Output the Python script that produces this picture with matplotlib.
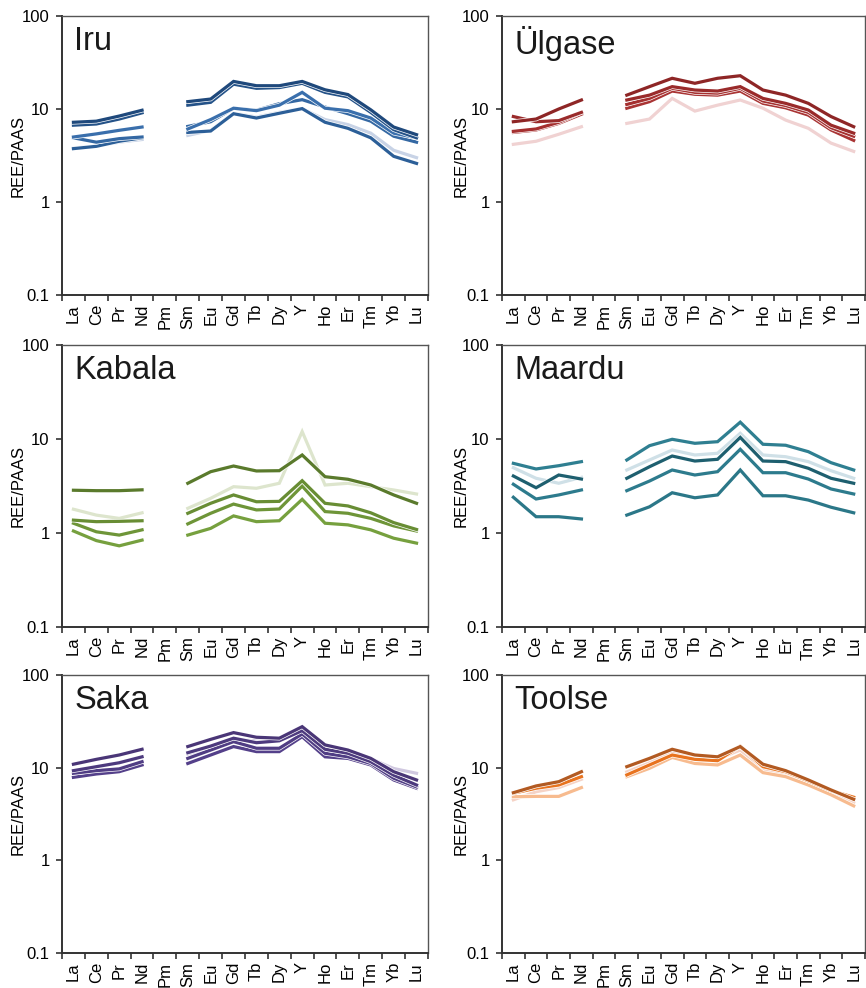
import numpy as np
import matplotlib.pyplot as plt
import matplotlib.patheffects as pe
from matplotlib.ticker import FixedLocator, NullFormatter, NullLocator

plt.rcParams['font.family'] = ['Liberation Sans', 'DejaVu Sans']

nan = np.nan
elements = ["La", "Ce", "Pr", "Nd", "Pm", "Sm", "Eu", "Gd", "Tb", "Dy",
            "Y", "Ho", "Er", "Tm", "Yb", "Lu"]
y_ticks = [0.1, 1, 10, 100]
y_ticklabels = ["0.1", "1", "10", "100"]

# REE/PAAS per sample, Pm left empty (gap in the line); palest sample first
iru = [
    [3.8, 4.0, 4.4, 4.7, nan, 5.2, 5.9, 9.0, 8.2, 9.2, 10.1, 7.7, 6.8, 5.5, 3.6, 3.0],
    [3.75, 3.97, 4.5, 4.9, nan, 5.6, 5.8, 8.9, 8.0, 9.0, 10.1, 7.2, 6.2, 4.9, 3.1, 2.6],
    [4.9, 4.4, 4.8, 5.0, nan, 6.5, 7.3, 10.2, 9.7, 11.4, 12.6, 10.5, 8.9, 7.4, 5.1, 4.4],
    [5.0, 5.4, 5.9, 6.4, nan, 6.1, 7.7, 10.2, 9.6, 11.0, 15.1, 10.2, 9.6, 8.0, 5.5, 4.9],
    [6.7, 6.9, 7.8, 9.1, nan, 11.0, 11.8, 18.5, 16.7, 17.0, 18.9, 15.1, 13.5, 9.2, 6.0, 4.9],
    [7.2, 7.4, 8.4, 9.7, nan, 12.0, 12.8, 19.8, 17.8, 17.8, 19.8, 16.1, 14.3, 9.8, 6.4, 5.3],
]
ulgase = [
    [4.17, 4.5, 5.35, 6.45, nan, 7.0, 7.8, 13.0, 9.5, 11.0, 12.5, 10.2, 7.6, 6.2, 4.3, 3.5],
    [5.6, 5.95, 7.0, 8.8, nan, 10.2, 12.0, 15.6, 14.4, 14.1, 15.6, 11.5, 10.3, 8.6, 5.95, 4.6],
    [5.75, 6.1, 7.2, 9.2, nan, 11.2, 13.0, 16.7, 15.1, 14.8, 16.7, 12.2, 10.9, 9.2, 6.3, 5.1],
    [8.3, 7.3, 7.5, 9.2, nan, 12.5, 14.1, 17.4, 16.0, 15.6, 17.4, 13.0, 11.5, 9.75, 6.7, 5.5],
    [7.3, 7.8, 10.0, 12.5, nan, 14.1, 17.4, 21.4, 18.9, 21.4, 22.8, 16.0, 14.1, 11.5, 8.3, 6.45],
]
kabala = [
    [1.79, 1.55, 1.43, 1.64, nan, 1.83, 2.34, 3.11, 2.99, 3.38, 12.0, 3.24, 3.38, 3.11, 2.87, 2.6],
    [1.05, 0.83, 0.73, 0.84, nan, 0.95, 1.12, 1.52, 1.32, 1.35, 2.28, 1.27, 1.22, 1.08, 0.88, 0.78],
    [1.27, 1.03, 0.95, 1.08, nan, 1.25, 1.62, 2.03, 1.76, 1.80, 3.16, 1.69, 1.62, 1.43, 1.19, 1.05],
    [1.37, 1.32, 1.33, 1.35, nan, 1.62, 2.07, 2.54, 2.15, 2.17, 3.6, 2.07, 1.94, 1.64, 1.29, 1.09],
    [2.85, 2.82, 2.82, 2.88, nan, 3.38, 4.49, 5.16, 4.57, 4.6, 6.76, 3.97, 3.73, 3.24, 2.54, 2.07],
]
maardu = [
    [4.95, 3.82, 3.38, 3.91, nan, 4.68, 5.98, 7.64, 6.76, 7.05, 11.5, 6.76, 6.48, 5.74, 4.6, 3.82],
    [2.4, 1.49, 1.49, 1.41, nan, 1.55, 1.9, 2.68, 2.37, 2.54, 4.68, 2.49, 2.49, 2.24, 1.88, 1.64],
    [3.3, 2.3, 2.54, 2.87, nan, 2.82, 3.57, 4.68, 4.14, 4.49, 7.77, 4.38, 4.38, 3.75, 2.94, 2.6],
    [4.04, 3.03, 4.14, 3.75, nan, 3.82, 5.07, 6.59, 5.83, 6.08, 10.4, 5.83, 5.74, 4.88, 3.82, 3.38],
    [5.51, 4.8, 5.2, 5.74, nan, 5.98, 8.49, 9.93, 9.0, 9.36, 15.1, 8.79, 8.58, 7.33, 5.6, 4.68],
]
saka = [
    [8.5, 9.0, 9.5, 11.2, nan, 14.0, 16.5, 20.0, 19.5, 19.8, 26.5, 16.5, 15.0, 12.5, 9.8, 8.7],
    [7.87, 8.55, 9.05, 10.7, nan, 11.1, 13.7, 16.9, 14.9, 14.9, 21.6, 13.1, 12.6, 10.7, 7.37, 6.0],
    [8.7, 9.29, 9.7, 11.6, nan, 12.6, 15.5, 19.1, 16.2, 16.2, 23.1, 14.3, 13.1, 11.1, 7.7, 6.2],
    [9.29, 10.25, 11.3, 13.1, nan, 14.5, 17.1, 20.8, 18.6, 19.5, 25.1, 15.8, 14.3, 11.6, 8.3, 6.5],
    [10.9, 12.3, 13.7, 15.8, nan, 16.9, 20.2, 23.9, 21.3, 20.8, 27.7, 17.6, 15.5, 12.6, 9.05, 7.37],
]
toolse = [
    [4.5, 5.5, 6.1, 7.5, nan, 9.0, 11.3, 14.5, 12.8, 12.4, 15.5, 9.6, 8.6, 6.8, 5.3, 4.2],
    [4.86, 4.9, 4.9, 6.1, nan, 8.0, 9.84, 12.9, 11.1, 10.7, 13.7, 8.84, 8.0, 6.5, 5.1, 3.87],
    [5.3, 6.0, 6.5, 8.0, nan, 8.35, 10.7, 13.7, 12.3, 11.9, 17.1, 10.25, 9.05, 7.2, 5.65, 4.8],
    [5.37, 6.35, 7.06, 9.05, nan, 10.25, 12.6, 15.8, 13.7, 13.1, 16.9, 10.9, 9.29, 7.37, 5.75, 4.56],
]

sites = ["Iru", "Ülgase", "Kabala", "Maardu", "Saka", "Toolse"]
site_data = [iru, ulgase, kabala, maardu, saka, toolse]
site_colors = [
    ['#c8d3e6', '#2c5f98', '#3468a3', '#3a6fac', '#245288', '#1f497c'],
    ['#f0d2d2', '#a93434', '#a53030', '#9a2b2b', '#8e2626'],
    ['#dde5cd', '#76a03e', '#6e9538', '#688d34', '#5a7a2c'],
    ['#cfe0e7', '#2b7788', '#2d7b8d', '#1e5f6f', '#2f7f91'],
    ['#d0c8e0', '#54408a', '#503d84', '#4d3a7e', '#4a3677'],
    ['#f5d3c6', '#f7bb8f', '#e8731f', '#b25a22'],
]

# axes boxes in figure fractions: [left, bottom, width, height]
col_left = [0.0716, 0.5797]
col_width = [0.4226, 0.4192]
row_bottom = [0.7014, 0.3654, 0.0354]
row_height = [0.2824, 0.2854, 0.2814]

fig = plt.figure(figsize=(8.66, 9.88), dpi=100)
x = np.arange(len(elements))
halo = [pe.Stroke(linewidth=3.3, foreground='white'), pe.Normal()]

for i, (name, samples, colors) in enumerate(zip(sites, site_data, site_colors)):
    r, c = divmod(i, 2)
    ax = fig.add_axes([col_left[c], row_bottom[r], col_width[c], row_height[r]])

    for vals, col in zip(samples, colors):
        ax.plot(x, vals, color=col, lw=2.3, solid_joinstyle='miter',
                path_effects=halo)

    ax.set_yscale('log')
    ax.set_ylim(0.1, 100)
    ax.set_xlim(-0.5, len(elements) - 0.5)

    ax.yaxis.set_major_locator(FixedLocator(y_ticks))
    ax.yaxis.set_minor_locator(NullLocator())
    ax.set_yticklabels(y_ticklabels)

    # tick marks sit between the elements, labels under each element
    ax.xaxis.set_major_locator(FixedLocator(np.arange(-0.5, len(elements), 1.0)))
    ax.xaxis.set_major_formatter(NullFormatter())
    ax.xaxis.set_minor_locator(FixedLocator(x))
    ax.set_xticklabels(elements, minor=True, rotation=90)

    ax.tick_params(axis='both', which='major', direction='out', length=4,
                   width=1.2, color='#333333', labelsize=12, pad=5)
    ax.tick_params(axis='x', which='minor', length=0, labelsize=12, pad=6.5)

    for side in ['left', 'bottom']:
        ax.spines[side].set_linewidth(1.4)
        ax.spines[side].set_color('#333333')
    for side in ['top', 'right']:
        ax.spines[side].set_linewidth(1.0)
        ax.spines[side].set_color('#555555')

    ax.text(0.034, 0.965, name, transform=ax.transAxes, fontsize=23.5,
            ha='left', va='top', color='#1a1a1a')
    ax.text(-0.12 if c == 0 else -0.114, 0.5, "REE/PAAS", transform=ax.transAxes,
            rotation=90, ha='center', va='center', fontsize=12)

fig.savefig('out.png', dpi=100)
plt.close(fig)
